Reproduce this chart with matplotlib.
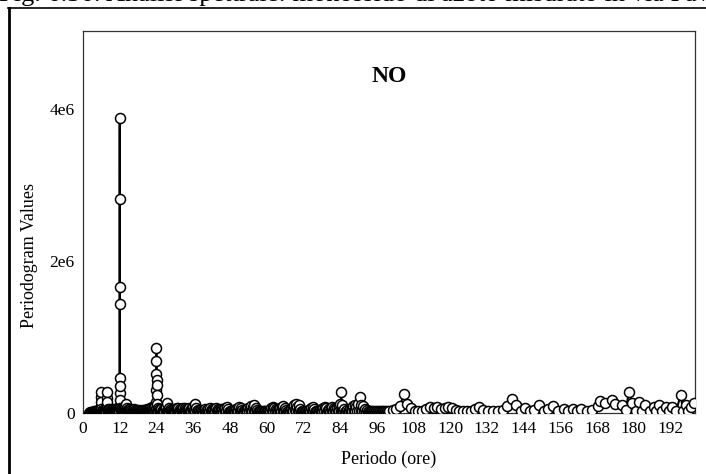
import numpy as np
import matplotlib
matplotlib.use("Agg")
import matplotlib.pyplot as plt
from matplotlib.lines import Line2D

plt.rcParams["font.family"] = ["Liberation Serif", "DejaVu Serif"]

CAPTION = "Fig. 6.36: Analisi spettrale: monossido di azoto misurato in via Pavese"
TITLE = "NO"
X_LABEL = "Periodo (ore)"
Y_LABEL = "Periodogram Values"
X_TICKS = [0, 12, 24, 36, 48, 60, 72, 84, 96, 108, 120, 132, 144, 156, 168, 180, 192]
Y_TICKS = [0, 2e6, 4e6]
Y_TICK_LABELS = ["0", "2e6", "4e6"]

# periodogram: period (hours) and value (x 1e6)
period_2_12 = [2.0, 2.15, 2.3, 2.45, 2.6, 2.75, 2.9, 3.05, 3.2, 3.35, 3.5, 3.65, 3.8,
               3.95, 4.1, 4.25, 4.4, 4.55, 4.7, 4.85, 5.0, 5.15, 5.3, 5.45, 5.6, 5.75,
               5.92, 5.94, 5.96, 5.98, 6.0,
               6.15, 6.3, 6.45, 6.6, 6.75, 6.9, 7.05, 7.2, 7.35, 7.5, 7.65, 7.8,
               7.94, 7.96, 7.98, 8.0, 8.02,
               8.15, 8.3, 8.45, 8.6, 8.75, 8.9, 9.05, 9.2, 9.35, 9.5, 9.65, 9.8, 9.95,
               10.1, 10.25, 10.4, 10.55, 10.7, 10.85, 11.0, 11.15, 11.3, 11.45, 11.6,
               11.75, 11.85]
value_2_12 = [0.0, 0.0, 0.0, 0.01, 0.01, 0.0, 0.0, 0.01, 0.01, 0.0, 0.02, 0.01, 0.01,
              0.02, 0.02, 0.01, 0.03, 0.01, 0.02, 0.02, 0.03, 0.01, 0.04, 0.02, 0.03, 0.02,
              0.09, 0.21, 0.27, 0.15, 0.05,
              0.02, 0.03, 0.02, 0.04, 0.02, 0.03, 0.02, 0.04, 0.02, 0.03, 0.02, 0.05,
              0.08, 0.20, 0.27, 0.14, 0.05,
              0.02, 0.04, 0.02, 0.03, 0.02, 0.05, 0.02, 0.04, 0.02, 0.03, 0.02, 0.05, 0.02,
              0.04, 0.02, 0.05, 0.02, 0.04, 0.02, 0.05, 0.03, 0.04, 0.03, 0.06,
              0.03, 0.08]

# 12 h peak
period_12 = [11.97, 11.98, 11.99, 12.0, 12.01, 12.015, 12.02, 12.025, 12.03]
value_12 = [0.08, 0.26, 1.43, 3.89, 2.82, 1.66, 0.46, 0.355, 0.17]

period_12_24 = [12.2, 12.35, 12.5, 12.65, 12.8, 12.95, 13.1, 13.25, 13.4, 13.55, 13.7,
                13.85, 14.0, 14.15, 14.3, 14.45, 14.6, 14.75, 14.9, 15.05, 15.2, 15.35,
                15.5, 15.65, 15.8, 15.95, 16.1, 16.25, 16.4, 16.55, 16.7, 16.85, 17.0,
                17.15, 17.3, 17.45, 17.6, 17.75, 17.9, 18.05, 18.2, 18.35, 18.5, 18.65,
                18.8, 18.95, 19.1, 19.25, 19.4, 19.55, 19.7, 19.85, 20.0, 20.15, 20.3,
                20.45, 20.6, 20.75, 20.9, 21.05, 21.2, 21.35, 21.5, 21.65, 21.8, 21.95,
                22.1, 22.25, 22.4, 22.55, 22.7, 22.85, 23.0, 23.15, 23.3, 23.45, 23.6,
                23.75]
value_12_24 = [0.07, 0.02, 0.05, 0.02, 0.06, 0.02, 0.05, 0.03, 0.07, 0.03, 0.09,
               0.03, 0.12, 0.03, 0.06, 0.02, 0.04, 0.02, 0.05, 0.02, 0.04, 0.02,
               0.05, 0.02, 0.04, 0.01, 0.03, 0.01, 0.04, 0.02, 0.05, 0.02, 0.04,
               0.01, 0.03, 0.01, 0.04, 0.01, 0.03, 0.01, 0.04, 0.01, 0.03, 0.01,
               0.02, 0.01, 0.03, 0.01, 0.04, 0.02, 0.03, 0.01, 0.04, 0.02, 0.03,
               0.01, 0.04, 0.02, 0.05, 0.02, 0.04, 0.02, 0.05, 0.02, 0.06, 0.02,
               0.05, 0.02, 0.06, 0.03, 0.08, 0.03, 0.07, 0.03, 0.09, 0.04, 0.10,
               0.05]

# 24 h peak
period_24 = [23.92, 23.94, 23.96, 23.98, 24.0, 24.02, 24.04, 24.06, 24.08]
value_24 = [0.15, 0.30, 0.51, 0.86, 0.69, 0.43, 0.37, 0.24, 0.12]

# upper edge of the dense band, 24-100 h
period_24_100 = [24.4, 24.8, 25.2, 25.6, 26.0, 26.4, 26.8, 27.2, 27.6, 28.0, 28.4, 28.8,
                 29.2, 29.6, 30.0, 30.4, 30.8, 31.2, 31.6, 32.0, 32.4, 32.8, 33.2, 33.6,
                 34.0, 34.4, 34.8, 35.2, 35.6, 36.0, 36.5, 37.0, 37.5, 38.0, 38.5, 39.0,
                 39.5, 40.0, 40.5, 41.0, 41.5, 42.0, 42.5, 43.0, 43.5, 44.0, 44.5, 45.0,
                 45.5, 46.0, 46.5, 47.0, 47.5, 48.0, 48.5, 49.0, 49.5, 50.0, 50.5, 51.0,
                 51.5, 52.0, 52.5, 53.0, 53.5, 54.0, 54.5, 55.0, 55.5, 56.0, 56.5, 57.0,
                 57.5, 58.0, 58.5, 59.0, 59.5, 60.0, 60.5, 61.0, 61.5, 62.0, 62.5, 63.0,
                 63.5, 64.0, 64.5, 65.0, 65.5, 66.0, 66.5, 67.0, 67.5, 68.0, 68.5, 69.0,
                 69.5, 70.0, 70.5, 71.0, 71.5, 72.0, 72.5, 73.0, 73.5, 74.0, 74.5, 75.0,
                 75.5, 76.0, 76.5, 77.0, 77.5, 78.0, 78.5, 79.0, 79.5, 80.0, 80.5, 81.0,
                 81.5, 82.0, 82.5, 83.0, 83.5, 84.0, 84.4, 84.8, 85.3, 85.8, 86.3, 86.8,
                 87.3, 87.8, 88.3, 88.8, 89.3, 89.8, 90.4, 91.0, 91.6, 92.2, 92.8, 93.4,
                 94.0, 94.6, 95.2, 95.8, 96.4, 97.0, 97.6, 98.2, 98.8, 99.4]
value_24_100 = [0.06, 0.05, 0.04, 0.05, 0.04, 0.05, 0.06, 0.08, 0.13, 0.06, 0.04, 0.05,
                0.04, 0.05, 0.04, 0.05, 0.06, 0.07, 0.05, 0.04, 0.05, 0.06, 0.07, 0.05,
                0.04, 0.05, 0.06, 0.05, 0.06, 0.08, 0.12, 0.06, 0.04, 0.03, 0.04, 0.03,
                0.04, 0.05, 0.04, 0.05, 0.06, 0.05, 0.04, 0.05, 0.06, 0.05, 0.04, 0.05,
                0.04, 0.05, 0.07, 0.08, 0.05, 0.03, 0.02, 0.03, 0.04, 0.05, 0.06, 0.08,
                0.07, 0.04, 0.03, 0.04, 0.05, 0.06, 0.07, 0.09, 0.08, 0.10, 0.06, 0.04,
                0.03, 0.02, 0.03, 0.02, 0.03, 0.02, 0.03, 0.04, 0.06, 0.08, 0.07, 0.05,
                0.04, 0.05, 0.07, 0.08, 0.09, 0.06, 0.04, 0.03, 0.04, 0.05, 0.06, 0.10,
                0.12, 0.08, 0.10, 0.05, 0.03, 0.02, 0.03, 0.02, 0.03, 0.04, 0.06, 0.08,
                0.05, 0.03, 0.02, 0.03, 0.04, 0.05, 0.07, 0.08, 0.06, 0.04, 0.05, 0.06,
                0.08, 0.07, 0.05, 0.06, 0.08, 0.12, 0.27, 0.10, 0.05, 0.03, 0.04, 0.03,
                0.05, 0.07, 0.09, 0.10, 0.08, 0.12, 0.21, 0.10, 0.09, 0.05, 0.04, 0.03,
                0.02, 0.03, 0.02, 0.03, 0.02, 0.03, 0.02, 0.03, 0.02, 0.03]

# low points between them (bottom of the dense band), 24-100 h
period_24_100_low = [24.2, 24.6, 25.0, 25.4, 25.8, 26.2, 26.6, 27.0, 27.4, 27.8, 28.2,
                     28.6, 29.0, 29.4, 29.8, 30.2, 30.6, 31.0, 31.4, 31.8, 32.2, 32.6,
                     33.0, 33.4, 33.8, 34.2, 34.6, 35.0, 35.4, 35.8, 36.25,
                     36.75, 37.25, 37.75, 38.25, 38.75, 39.25, 39.75, 40.25, 40.75, 41.25,
                     41.75, 42.25, 42.75, 43.25, 43.75, 44.25, 44.75, 45.25, 45.75, 46.25,
                     46.75, 47.25, 47.75, 48.25, 48.75, 49.25, 49.75,
                     50.25, 50.75, 51.25, 51.75, 52.25, 52.75, 53.25, 53.75, 54.25, 54.75,
                     55.25, 55.75, 56.25, 56.75, 57.25, 57.75, 58.25, 58.75, 59.25, 59.75,
                     60.25, 60.75, 61.25, 61.75, 62.25, 62.75, 63.25, 63.75,
                     64.25, 64.75, 65.25, 65.75, 66.25, 66.75, 67.25, 67.75, 68.25, 68.75,
                     69.25, 69.75, 70.25, 70.75, 71.25, 71.75, 72.25, 72.75, 73.25, 73.75,
                     74.25, 74.75, 75.25, 75.75, 76.25, 76.75, 77.25, 77.75,
                     78.25, 78.75, 79.25, 79.75, 80.25, 80.75, 81.25, 81.75, 82.25, 82.75,
                     83.25, 83.75,
                     84.2, 84.6, 85.05, 85.55, 86.05, 86.55, 87.05, 87.55, 88.05, 88.55,
                     89.05, 89.55, 90.1, 90.7, 91.3, 91.9, 92.5, 93.1, 93.7, 94.3, 94.9,
                     95.5, 96.1, 96.7, 97.3, 97.9, 98.5, 99.1, 99.7]
value_24_100_low = [0.02, 0.02, 0.01, 0.02, 0.01, 0.02, 0.02, 0.03, 0.03, 0.02, 0.01,
                    0.02, 0.01, 0.02, 0.01, 0.02, 0.02, 0.03, 0.02, 0.01, 0.02, 0.02,
                    0.03, 0.02, 0.01, 0.02, 0.02, 0.02, 0.02, 0.03, 0.04,
                    0.03, 0.02, 0.01, 0.01, 0.01, 0.01, 0.02, 0.02, 0.01, 0.02,
                    0.02, 0.02, 0.01, 0.02, 0.02, 0.02, 0.01, 0.02, 0.01, 0.02,
                    0.03, 0.02, 0.01, 0.01, 0.01, 0.01, 0.02,
                    0.02, 0.03, 0.03, 0.02, 0.01, 0.01, 0.02, 0.02, 0.03, 0.03,
                    0.03, 0.03, 0.02, 0.01, 0.01, 0.01, 0.01, 0.01, 0.01, 0.01,
                    0.01, 0.01, 0.02, 0.03, 0.03, 0.02, 0.01, 0.02,
                    0.02, 0.03, 0.03, 0.02, 0.01, 0.01, 0.01, 0.02, 0.02, 0.03,
                    0.04, 0.03, 0.03, 0.02, 0.01, 0.01, 0.01, 0.01, 0.01, 0.01,
                    0.02, 0.03, 0.02, 0.01, 0.01, 0.01, 0.01, 0.02,
                    0.02, 0.03, 0.02, 0.01, 0.02, 0.02, 0.03, 0.03, 0.02, 0.02,
                    0.02, 0.03,
                    0.03, 0.03, 0.02, 0.01, 0.01, 0.01, 0.02, 0.02, 0.03, 0.03,
                    0.03, 0.03, 0.03, 0.03, 0.03, 0.02, 0.01, 0.01, 0.01, 0.01, 0.01,
                    0.01, 0.01, 0.01, 0.01, 0.01, 0.01, 0.01, 0.01]

period_100_200 = [100.0, 101.2, 102.4, 103.6, 104.8, 106.0, 107.2, 108.4, 109.6, 110.8,
                  112.0, 113.4, 114.6, 115.8, 117.0, 118.2, 119.4, 120.6, 121.8, 123.0,
                  124.3, 125.6, 126.9, 128.2, 129.4, 130.7, 132.3, 133.9, 135.5, 137.1,
                  138.6, 140.2, 141.6, 143.0, 144.4, 146.0, 147.5, 149.0, 150.6, 152.0,
                  153.5, 155.2, 157.1, 158.6, 160.0, 161.4, 162.8, 164.6, 166.5, 168.3,
                  168.8, 170.7, 172.9, 174.0, 176.2, 177.4, 178.4, 179.5, 180.6, 181.6,
                  182.7, 183.8, 185.2, 186.6, 187.4, 188.2, 189.3, 190.4, 191.5, 192.6,
                  193.9, 195.3, 196.1, 196.9, 197.8, 198.6, 199.6]
value_100_200 = [0.03, 0.04, 0.05, 0.09, 0.25, 0.12, 0.07, 0.03, 0.02, 0.03,
                 0.05, 0.08, 0.06, 0.08, 0.05, 0.06, 0.08, 0.07, 0.04, 0.02,
                 0.03, 0.02, 0.03, 0.05, 0.08, 0.04, 0.02, 0.03, 0.02, 0.04,
                 0.09, 0.18, 0.10, 0.03, 0.06, 0.02, 0.04, 0.10, 0.03, 0.05,
                 0.09, 0.03, 0.05, 0.02, 0.05, 0.02, 0.05, 0.02, 0.04, 0.09,
                 0.16, 0.13, 0.17, 0.12, 0.10, 0.04, 0.28, 0.13, 0.03, 0.15,
                 0.02, 0.10, 0.02, 0.08, 0.02, 0.10, 0.02, 0.08, 0.02, 0.08,
                 0.03, 0.24, 0.03, 0.10, 0.02, 0.08, 0.13]

period = np.concatenate([period_2_12, period_12, period_12_24, period_24,
                         period_24_100, period_24_100_low, period_100_200])
value = np.concatenate([value_2_12, value_12, value_12_24, value_24,
                        value_24_100, value_24_100_low, value_100_200]) * 1e6
order = np.argsort(period, kind="stable")
period, value = period[order], value[order]

fig = plt.figure(figsize=(7.06, 4.74), dpi=100)
ax = fig.add_axes([83 / 706, 61 / 474, 612 / 706, 382 / 474])

ax.plot(period, value, color="black", lw=1.5, marker="o", ms=7.2,
        mfc="white", mec="black", mew=1.1, zorder=3)

ax.set_xlim(0, 200)
ax.set_ylim(0, 5.03e6)
ax.set_xticks(X_TICKS)
ax.set_yticks(Y_TICKS)
ax.set_yticklabels(Y_TICK_LABELS)
ax.tick_params(length=0, labelsize=12.5, pad=6, colors="black")
for s in ax.spines.values():
    s.set_color("#333333")
    s.set_linewidth(0.9)
ax.text(0.5, 0.88, TITLE, transform=ax.transAxes, ha="center", va="center",
        fontsize=17, fontweight="bold")

fig.text(389 / 706, 1 - 459 / 474, X_LABEL, ha="center", va="center", fontsize=13)
fig.text(30 / 706, 1 - 255 / 474, Y_LABEL, ha="center", va="center", rotation=90,
         fontsize=13)

# document frame and cut-off caption of the page
fig.add_artist(Line2D([8.7 / 706, 8.7 / 706], [0, 1 - 7.7 / 474], color="black",
                      lw=2.0, transform=fig.transFigure))
fig.add_artist(Line2D([7.7 / 706, 1], [1 - 7.7 / 474, 1 - 7.7 / 474], color="black",
                      lw=1.2, transform=fig.transFigure))
fig.text(-0.002, 1 - 1.5 / 474, CAPTION, fontsize=19, va="baseline", ha="left")

fig.savefig("out.png", dpi=100)
